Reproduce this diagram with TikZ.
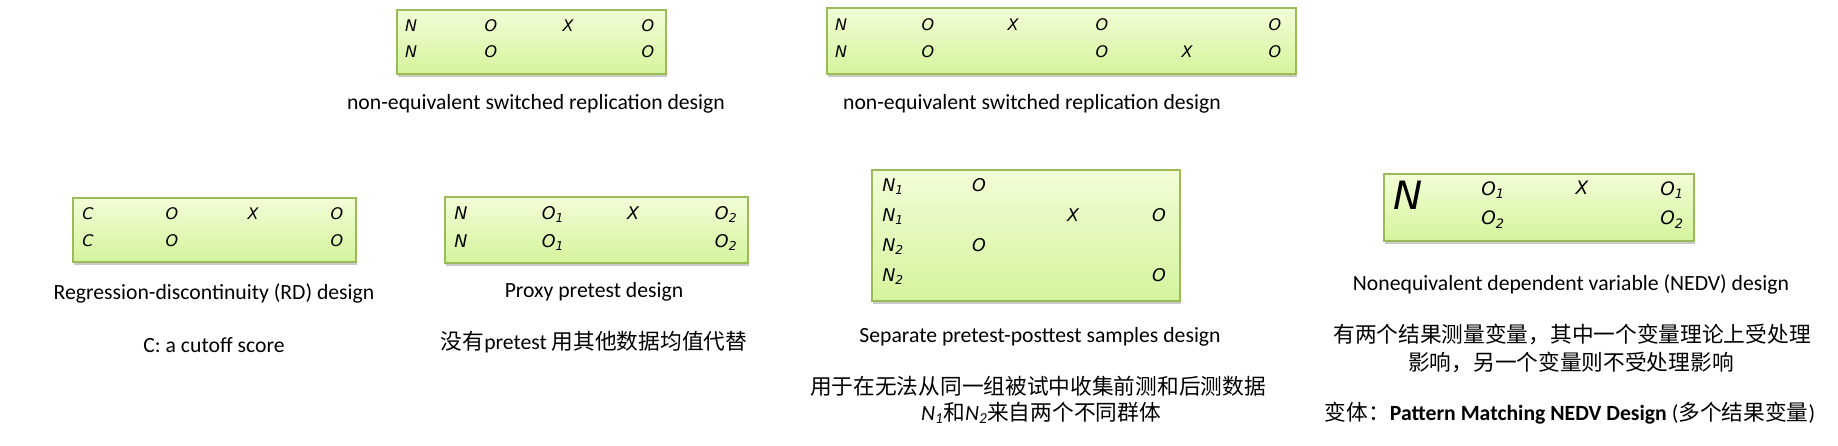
\documentclass[tikz,border=0pt]{standalone}
\usepackage{fontspec}
\setmainfont{Carlito}
\newfontfamily\cjk{Noto Sans CJK SC}
\newfontfamily\cellfont{DejaVu Sans}
\usetikzlibrary{shadows}

\definecolor{boxline}{RGB}{155,187,89}
\definecolor{boxtop}{RGB}{242,253,215}
\definecolor{boxbot}{RGB}{212,244,156}

\tikzset{designbox/.style={draw=boxline,line width=2pt,top color=boxtop,bottom color=boxbot,
    inner sep=0pt,drop shadow={shadow xshift=1pt,shadow yshift=-3pt,opacity=0.3,fill=black!70}}}

\begin{document}
\begin{tikzpicture}[x=1pt,y=-1pt]
    \useasboundingbox (0,0) rectangle (1838,446);

        \begin{scope}[every node/.style={designbox}]
            \node (A) [minimum width=269pt,minimum height=64pt] at (531.5,42) {};
            \node (B) [minimum width=469pt,minimum height=66pt] at (1061.5,41) {};
            \node (C) [minimum width=283pt,minimum height=64pt] at (214.5,230) {};
            \node (D) [minimum width=303pt,minimum height=66pt] at (596.5,230) {};
            \node (E) [minimum width=308pt,minimum height=131pt] at (1026,235.5) {};
            \node (F) [minimum width=310pt,minimum height=67pt] at (1539,207.5) {};
        \end{scope}

        \begin{scope}[every node/.style={inner sep=0pt,anchor=mid,font=\cellfont\itshape\fontsize{16}{16}\selectfont}]
            \node (A1) at (411,29) {N};
            \node (A2) at (491,29) {O};
            \node (A3) at (568,29) {X};
            \node (A4) at (648,29) {O};
            \node (A5) at (411,55) {N};
            \node (A6) at (491,55) {O};
            \node (A7) at (648,55) {O};

            \node (B1) at (841,28) {N};
            \node (B2) at (928,28) {O};
            \node (B3) at (1013,28) {X};
            \node (B4) at (1102,28) {O};
            \node (B5) at (1275,28) {O};
            \node (B6) at (841,55) {N};
            \node (B7) at (928,55) {O};
            \node (B8) at (1102,55) {O};
            \node (B9) at (1187,55) {X};
            \node (B10) at (1275,55) {O};

            \node (C1) at (88,217) {C};
            \node (C2) at (172,217) {O};
            \node (C3) at (253,217) {X};
            \node (C4) at (337,217) {O};
            \node (C5) at (88,244) {C};
            \node (C6) at (172,244) {O};
            \node (C7) at (337,244) {O};
        \end{scope}

        \begin{scope}[every node/.style={inner sep=0pt,anchor=mid,font=\cellfont\itshape\fontsize{17.5}{17.5}\selectfont}]
            \node (D1) at (461,217) {N};
            \node (D2) at (553,217) {O\textsubscript{1}};
            \node (D3) at (633,217) {X};
            \node (D4) at (726,217) {O\textsubscript{2}};
            \node (D5) at (461,245) {N};
            \node (D6) at (553,245) {O\textsubscript{1}};
            \node (D7) at (726,245) {O\textsubscript{2}};

            \node (E1) at (893,189) {N\textsubscript{1}};
            \node (E2) at (979,189) {O};
            \node (E3) at (893,219) {N\textsubscript{1}};
            \node (E4) at (1073,219) {X};
            \node (E5) at (1159,219) {O};
            \node (E6) at (893,249) {N\textsubscript{2}};
            \node (E7) at (979,249) {O};
            \node (E8) at (893,279) {N\textsubscript{2}};
            \node (E9) at (1159,279) {O};
        \end{scope}

        \begin{scope}[every node/.style={inner sep=0pt,anchor=mid,font=\cellfont\itshape\fontsize{18.5}{18.5}\selectfont}]
            \node (F1) [font=\cellfont\itshape\fontsize{39}{39}\selectfont] at (1408,207) {N};
            \node (F2) at (1493,193) {O\textsubscript{1}};
            \node (F3) at (1582,192) {X};
            \node (F4) at (1672,193) {O\textsubscript{1}};
            \node (F5) at (1493,222) {O\textsubscript{2}};
            \node (F6) at (1672,222) {O\textsubscript{2}};
        \end{scope}

        \begin{scope}[every node/.style={inner sep=0pt,anchor=mid,font=\fontsize{21.7}{26}\selectfont}]
            \node (capA) at (536,107) {non-equivalent switched replication design};
            \node (capB) at (1032,107) {non-equivalent switched replication design};
            \node (capC) at (214,297) {Regression-discontinuity (RD) design};
            \node (noteC) at (214,350) {C: a cutoff score};
            \node (capD) at (594,295) {Proxy pretest design};
            \node (noteD) at (594,347) {{\cjk 没有}pretest {\cjk 用其他数据均值代替}};
            \node (capE) at (1040,340) {Separate pretest-posttest samples design};
            \node (noteE1) at (1038,392) {\cjk 用于在无法从同一组被试中收集前测和后测数据};
            \node (noteE2) at (1041,418) {\textit{N}\textsubscript{\textit{1}}{\cjk 和}\textit{N}\textsubscript{\textit{2}}{\cjk 来自两个不同群体}};
            \node (capF) at (1571,288) {Nonequivalent dependent variable (NEDV) design};
            \node (noteF1) at (1572,340) {\cjk 有两个结果测量变量，其中一个变量理论上受处理};
            \node (noteF2) at (1571,368) {\cjk 影响，另一个变量则不受处理影响};
            \node (noteF3) at (1570,418) {{\cjk 变体：}\textbf{Pattern Matching NEDV Design} ({\cjk 多个结果变量})};
        \end{scope}
    \end{tikzpicture}
\end{document}
